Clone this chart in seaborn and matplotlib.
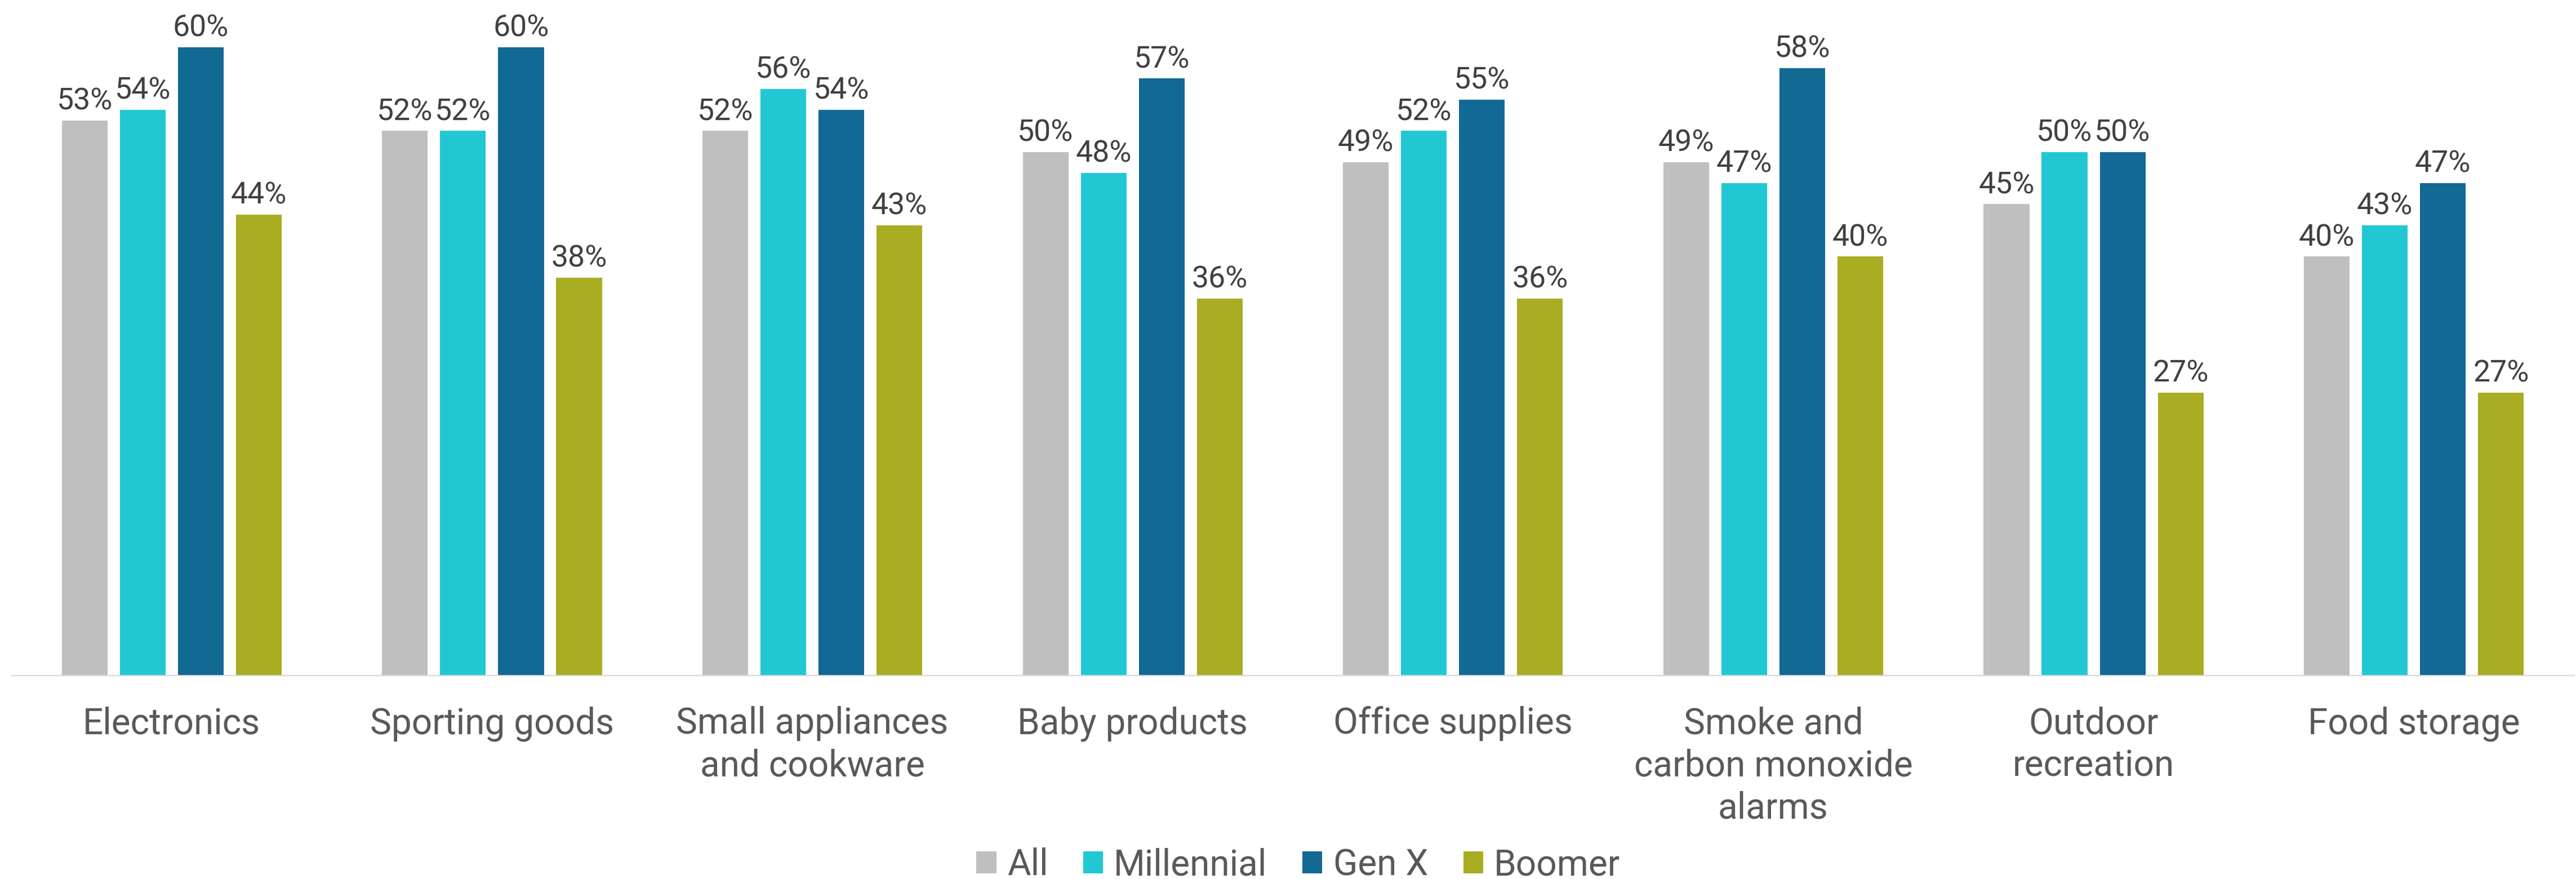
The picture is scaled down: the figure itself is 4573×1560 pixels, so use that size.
import matplotlib
matplotlib.use("Agg")
import matplotlib.pyplot as plt
from matplotlib.patches import Patch
import seaborn as sns
import pandas as pd

categories = [
    "Electronics",
    "Sporting goods",
    "Small appliances\nand cookware",
    "Baby products",
    "Office supplies",
    "Smoke and\ncarbon monoxide\nalarms",
    "Outdoor\nrecreation",
    "Food storage",
]
groups = ["All", "Millennial", "Gen X", "Boomer"]
all_vals = [53, 52, 52, 50, 49, 49, 45, 40]
millennial_vals = [54, 52, 56, 48, 52, 47, 50, 43]
genx_vals = [60, 60, 54, 57, 55, 58, 50, 47]
boomer_vals = [44, 38, 43, 36, 36, 40, 27, 27]
colors = ["#BFBFBF", "#21C8D3", "#126994", "#A9AD21"]

series = [all_vals, millennial_vals, genx_vals, boomer_vals]
df = pd.DataFrame(
    [
        {"category": c, "group": g, "value": v}
        for g, vals in zip(groups, series)
        for c, v in zip(categories, vals)
    ]
)

sns.set_theme(style="white")
plt.rcParams["font.family"] = ["Roboto", "DejaVu Sans"]

W, H = 4573, 1560
fig = plt.figure(figsize=(W / 100, H / 100), dpi=100)
ax = fig.add_axes([20.5 / W, (H - 1199) / H, 4549 / W, 1199 / H])

sns.barplot(
    data=df, x="category", y="value", hue="group",
    order=categories, hue_order=groups, palette=colors,
    width=0.725, gap=0.213, linewidth=0, saturation=1,
    legend=False, ax=ax,
)

for cont in ax.containers:
    ax.bar_label(
        cont, labels=[f"{v:.0f}%" for v in cont.datavalues],
        padding=6, fontsize=38.5, color="#404040",
    )

ax.set_ylim(0, 64.5)
ax.set_xlim(-0.5, len(categories) - 0.5)
ax.set_xlabel("")
ax.set_ylabel("")
ax.set_yticks([])
for side in ["top", "left", "right"]:
    ax.spines[side].set_visible(False)
ax.spines["bottom"].set_color("#D9D9D9")
ax.spines["bottom"].set_linewidth(1.6)
ax.tick_params(axis="x", length=0, pad=39, labelsize=46, labelcolor="#595959")
for lbl in ax.get_xticklabels():
    lbl.set_linespacing(1.27)

handles = [Patch(facecolor=c, edgecolor="none", label=g) for g, c in zip(groups, colors)]
fig.legend(
    handles=handles, loc="lower center", bbox_to_anchor=(0.504, -0.004),
    ncol=4, frameon=False, fontsize=46, labelcolor="#595959",
    handlelength=0.55, handleheight=0.55, handletextpad=0.3,
    columnspacing=0.98, borderpad=0, borderaxespad=0,
)

fig.savefig("out.png", dpi=100, facecolor="white")
